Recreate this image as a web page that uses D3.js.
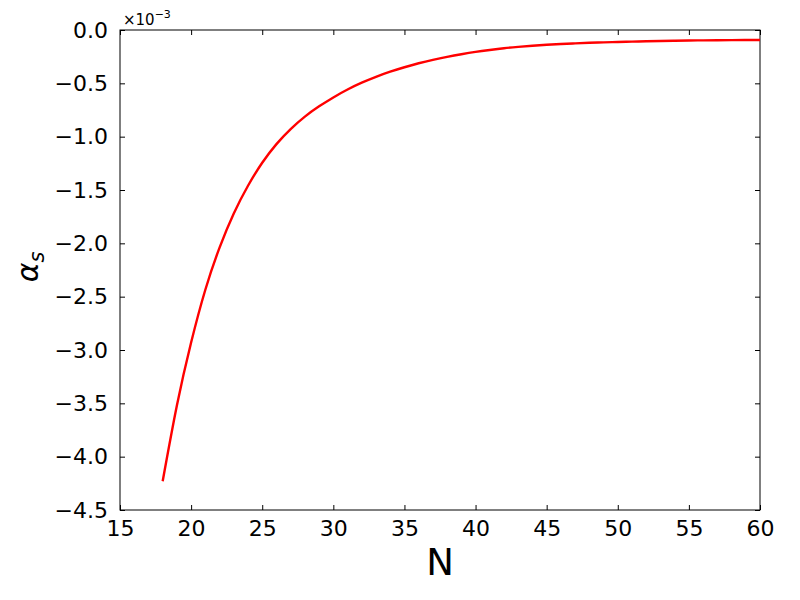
<!DOCTYPE html>
<html>
<head>
<meta charset="utf-8">
<script src="https://cdn.jsdelivr.net/npm/d3@7"></script>
<style>
  body { margin: 0; background: #fff; }
  svg { display: block; }
  text { font-family: "DejaVu Sans", sans-serif; fill: #000; }
</style>
</head>
<body>
<svg id="chart" width="800" height="600"></svg>
<script>
// Data (alpha_s in units of 1e-3)
const N = [18,19,20,21,22,23,24,25,26,27,28,29,30,31,32,33,34,35,36,37,38,39,40,
           41,42,43,44,45,46,47,48,49,50,51,52,53,54,55,56,57,58,59,60];
const alphaS = [-4.23,-3.52,-2.93,-2.435,-2.04,-1.72,-1.46,-1.245,-1.07,-0.929,-0.812,-0.716,-0.632,
                -0.558,-0.494,-0.439,-0.391,-0.349,-0.312,-0.280,-0.252,-0.227,-0.205,
                -0.187,-0.171,-0.158,-0.147,-0.138,-0.131,-0.125,-0.120,-0.116,-0.112,
                -0.109,-0.106,-0.103,-0.101,-0.099,-0.097,-0.096,-0.095,-0.094,-0.094];
const xTicks = [15,20,25,30,35,40,45,50,55,60];
const yTicks = [0,-0.5,-1.0,-1.5,-2.0,-2.5,-3.0,-3.5,-4.0,-4.5];

(function () {
const svg = d3.select("#chart");
const L = 120, R = 760, T = 30, B = 510;
const x = d3.scaleLinear().domain([15, 60]).range([L, R]);
const y = d3.scaleLinear().domain([-4.5, 0]).range([B, T]);
const tickLen = 5;
const fmtMinus = s => s.replace("-", "\u2212");

const gBottom = svg.append("g").attr("transform", `translate(0,${B})`)
  .call(d3.axisBottom(x).tickValues(xTicks).tickSizeInner(-tickLen).tickSizeOuter(0)
        .tickPadding(10).tickFormat(d3.format("d")));
const gTop = svg.append("g").attr("transform", `translate(0,${T})`)
  .call(d3.axisTop(x).tickValues(xTicks).tickSizeInner(-tickLen).tickSizeOuter(0).tickFormat(""));
const gLeft = svg.append("g").attr("transform", `translate(${L},0)`)
  .call(d3.axisLeft(y).tickValues(yTicks).tickSizeInner(-tickLen).tickSizeOuter(0)
        .tickPadding(12).tickFormat(d => fmtMinus(d3.format(".1f")(d))));
const gRight = svg.append("g").attr("transform", `translate(${R},0)`)
  .call(d3.axisRight(y).tickValues(yTicks).tickSizeInner(-tickLen).tickSizeOuter(0).tickFormat(""));

[gBottom, gTop, gLeft, gRight].forEach(g => {
  g.select(".domain").remove();
  g.selectAll(".tick line").attr("stroke", "#000").attr("stroke-width", 1);
  g.selectAll("text").attr("font-family", "DejaVu Sans").attr("font-size", 22).attr("fill", "#000");
});

svg.append("rect").attr("x", L).attr("y", T).attr("width", R - L).attr("height", B - T)
  .attr("fill", "none").attr("stroke", "#000").attr("stroke-width", 1);

const line = d3.line().x((d, i) => x(N[i])).y(d => y(d)).curve(d3.curveNatural);
svg.append("path").datum(alphaS).attr("d", line)
  .attr("fill", "none").attr("stroke", "#ff0000").attr("stroke-width", 2.4);

const off = svg.append("text").attr("x", 123).attr("y", 25).attr("font-size", 15);
off.append("tspan").text("\u00d710");
off.append("tspan").attr("dy", -7).attr("font-size", 11).text("\u22123");

svg.append("text").attr("x", (L + R) / 2).attr("y", 575).attr("text-anchor", "middle")
  .attr("font-size", 37).text("N");

const yl = svg.append("text").attr("transform", "translate(38,267) rotate(-90)")
  .attr("text-anchor", "middle").attr("font-family", "DejaVu Serif").attr("font-style", "italic")
  .attr("font-size", 30);
yl.append("tspan").text("\u03b1");
yl.append("tspan").attr("dy", 6).attr("font-size", 21).text("s");
})();
</script>
</body>
</html>
